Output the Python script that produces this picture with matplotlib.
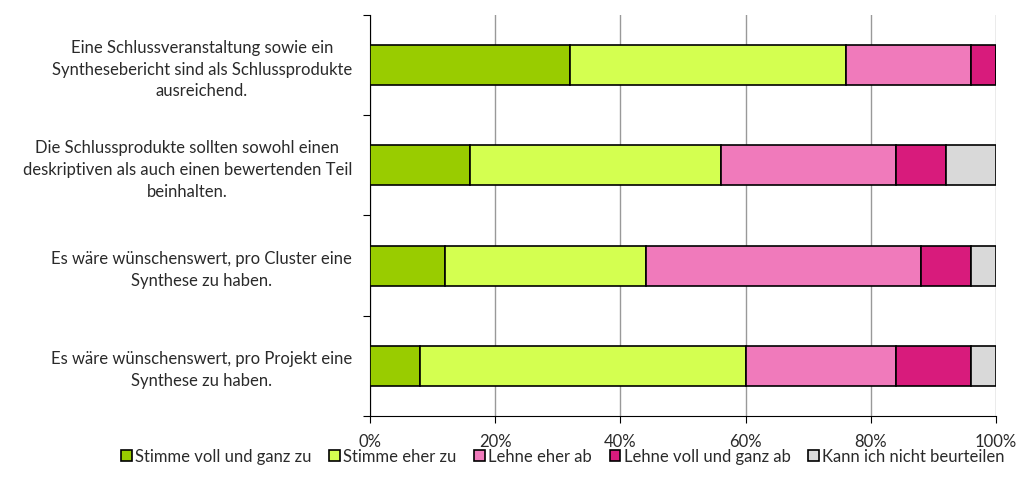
import matplotlib.pyplot as plt
import numpy as np

plt.rcParams['font.family'] = ['Lato', 'DejaVu Sans']

# questions (top to bottom)
questions = [
    'Eine Schlussveranstaltung sowie ein\nSynthesebericht sind als Schlussprodukte\nausreichend.',
    'Die Schlussprodukte sollten sowohl einen\ndeskriptiven als auch einen bewertenden Teil\nbeinhalten.',
    'Es wäre wünschenswert, pro Cluster eine\nSynthese zu haben.',
    'Es wäre wünschenswert, pro Projekt eine\nSynthese zu haben.',
]
answers = ['Stimme voll und ganz zu', 'Stimme eher zu', 'Lehne eher ab',
           'Lehne voll und ganz ab', 'Kann ich nicht beurteilen']
colors = ['#99cc00', '#d4ff50', '#f07abb', '#d81b7c', '#d9d9d9']

# shares in percent, one list per answer, same order as questions
voll_zu = [32, 16, 12, 8]
eher_zu = [44, 40, 32, 52]
eher_ab = [20, 28, 44, 24]
voll_ab = [4, 8, 8, 12]
kann_nicht = [0, 8, 4, 4]
values = [voll_zu, eher_zu, eher_ab, voll_ab, kann_nicht]

txt_col = '#2a2a2a'

fig = plt.figure(figsize=(10.18, 4.92), dpi=100)
ax = fig.add_axes([0.3635, 0.1545, 0.615, 0.815])

y = np.arange(len(questions))
left = np.zeros(len(questions))
for name, vals, col in zip(answers, values, colors):
    vals = np.array(vals, dtype=float)
    ax.barh(y, vals, left=left, height=0.4, color=col, edgecolor='black',
            linewidth=1.2, label=name, zorder=3)
    left += vals

ax.set_xlim(0, 100)
ax.set_ylim(len(questions) - 0.5, -0.5)
ax.set_xticks([0, 20, 40, 60, 80, 100])
ax.set_xticklabels(['0%', '20%', '40%', '60%', '80%', '100%'], fontsize=12, color=txt_col)
ax.grid(axis='x', color='#999999', linewidth=1, zorder=0)
ax.tick_params(axis='x', length=5, pad=8)

ax.set_yticks(np.arange(-0.5, len(questions), 1))
ax.set_yticklabels([])
ax.set_yticks(y, minor=True)
ax.set_yticklabels(questions, minor=True, fontsize=12, color=txt_col,
                   multialignment='center', linespacing=1.45)
ax.tick_params(axis='y', which='minor', length=0, pad=13)
ax.tick_params(axis='y', which='major', length=5)

for s in ['top', 'right']:
    ax.spines[s].set_visible(False)

fig.legend(loc='center', bbox_to_anchor=(0.553, 0.072), ncol=5, frameon=False,
           fontsize=12, handlelength=0.65, handleheight=0.65, handletextpad=0.2,
           columnspacing=1.05, labelcolor=txt_col)

fig.savefig('out.png', dpi=100)
